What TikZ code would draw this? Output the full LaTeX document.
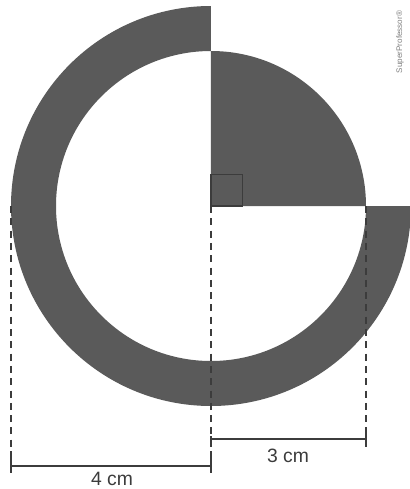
\documentclass[tikz,border=0pt]{standalone}
\usepackage{fontspec}
\setmainfont{Liberation Sans}
\usetikzlibrary{positioning,calc}

\definecolor{ringgray}{HTML}{5A5A5A}
\definecolor{linegray}{HTML}{3C3C3C}

\begin{document}
\begin{tikzpicture}[
    % shape styles
    shade/.style     = {fill=ringgray},
    corner/.style    = {draw=linegray, line width=0.7pt},
    % guide and dimension lines
    guide/.style     = {draw=linegray, line width=0.6pt, dash pattern=on 4pt off 3pt},
    dimline/.style   = {draw=linegray, line width=0.8pt},
    dimlabel/.style  = {font=\fontsize{11}{13}\selectfont, text=linegray, inner sep=1pt},
    brand/.style     = {font=\fontsize{4.6}{5}\selectfont, text=gray, rotate=90, inner sep=0pt}
  ]
\useasboundingbox (-4.22,-5.66) rectangle (3.98,4.12);

% ============================================================
% Ring (three quarters) and quarter disk
% ============================================================
\coordinate (O) at (0,0);
\fill[shade] (90:4) arc (90:360:4) -- (0:3.1) arc (360:90:3.1) -- cycle;
\fill[shade] (O) -- (3.1,0) arc (0:90:3.1) -- cycle;
\draw[corner] (O) rectangle (0.63,0.63);

% ============================================================
% Guides and dimensions
% ============================================================
\coordinate (L)  at (-4,0);
\coordinate (R)  at (3.1,0);
\coordinate (Lb) at (-4,-5.32);
\coordinate (Ob) at (0,-5.32);
\coordinate (Rb) at (3.1,-4.82);

\draw[guide] (L) -- (Lb);
\draw[guide] (O) -- (Ob);
\draw[guide] (R) -- (Rb);

% 3 cm
\coordinate (a3) at (0,-4.66);
\coordinate (b3) at (3.1,-4.66);
\draw[dimline] (a3) -- (b3);
\draw[dimline] ($(b3)+(0,0.14)$) -- ($(b3)+(0,-0.16)$);
\draw[dimline] ($(a3)+(0,0.06)$) -- ($(a3)+(0,-0.12)$);
\node[dimlabel] (lab3) at (1.54,-5.0) {3 cm};

% 4 cm
\coordinate (a4) at (-4,-5.2);
\coordinate (b4) at (0,-5.2);
\draw[dimline] (a4) -- (b4);
\draw[dimline] ($(a4)+(0,0.3)$) -- ($(a4)+(0,-0.14)$);
\draw[dimline] ($(b4)+(0,0.3)$) -- ($(b4)+(0,-0.14)$);
\node[dimlabel] (lab4) at (-1.98,-5.46) {4 cm};

% brand mark
\node[brand] (mark) at (3.78,3.28) {SuperProfessor®};

\end{tikzpicture}
\end{document}
